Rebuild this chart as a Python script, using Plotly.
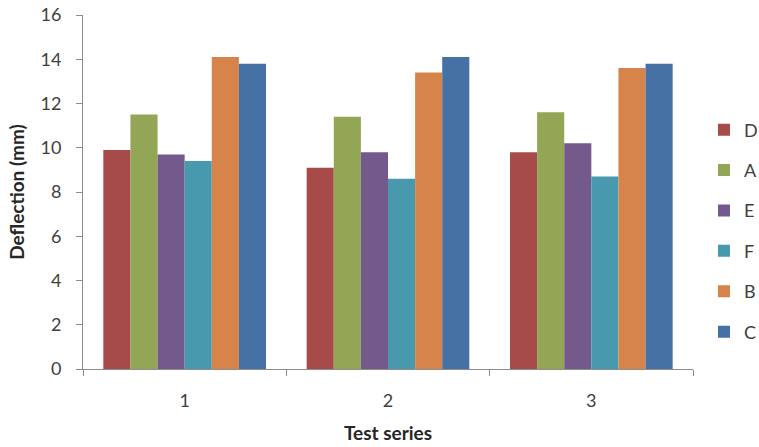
import plotly.graph_objects as go

categories = ["1", "2", "3"]
series_names = ["D", "A", "E", "F", "B", "C"]
D = [9.9, 9.1, 9.8]
A = [11.5, 11.4, 11.6]
E = [9.7, 9.8, 10.2]
F = [9.4, 8.6, 8.7]
B = [14.1, 13.4, 13.6]
C = [13.8, 14.1, 13.8]
values = [D, A, E, F, B, C]
colors = ["#A64B4A", "#92A656", "#745A8C", "#4899AE", "#D6844A", "#4671A5"]

fig = go.Figure()
for name, vals, col in zip(series_names, values, colors):
    fig.add_trace(go.Bar(
        x=categories, y=vals, name=name, legendgroup=name,
        marker=dict(color=col, line=dict(width=0)),
    ))

font_family = "Lato, 'Open Sans', sans-serif"
fig.update_layout(
    width=759, height=447,
    margin=dict(l=83, r=66, t=15, b=78, autoexpand=False),
    plot_bgcolor="white", paper_bgcolor="white",
    barmode="group", bargap=0.2, bargroupgap=0,
    font=dict(family=font_family, size=18, color="#404040"),
    legend=dict(x=1.018, y=0.39, yanchor="middle", xanchor="left",
                font=dict(size=18, color="#404040"), tracegroupgap=14,
                bgcolor="rgba(0,0,0,0)"),
    xaxis=dict(
        title=dict(text="<b>Test series</b>", font=dict(size=19, color="#262626"), standoff=17),
        showline=True, linecolor="#8c8c8c", linewidth=1,
        ticks="outside", tickson="boundaries", ticklen=6, tickcolor="#8c8c8c",
        showgrid=False, tickfont=dict(size=18, color="#404040"),
        ticklabelstandoff=15,
    ),
    yaxis=dict(
        title=dict(text="<b>Deflection (mm)</b>", font=dict(size=19, color="#262626"), standoff=10),
        range=[0, 16], dtick=2, showline=True, linecolor="#8c8c8c", linewidth=1,
        ticks="outside", ticklen=6, tickcolor="#8c8c8c",
        showgrid=False, zeroline=False, tickfont=dict(size=18, color="#404040"),
        ticklabelstandoff=11,
    ),
)
fig.write_html("out.html")
